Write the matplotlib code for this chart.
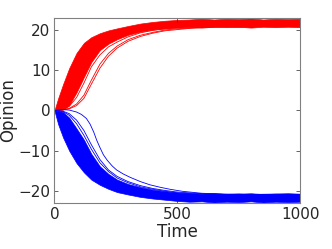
import numpy as np
import matplotlib
matplotlib.use('Agg')
import matplotlib.pyplot as plt

# time samples
t = [0, 15, 35, 60, 90, 120, 150, 185, 220, 255, 300, 350, 400, 450,
     500, 550, 600, 650, 700, 750, 800, 850, 900, 950, 1000]

# red cluster: edges of the dense band
red_top = [0, 3.0, 6.5, 10.5, 14.3, 16.8, 18.2, 19.2, 19.9, 20.4, 21.0, 21.6, 22.0, 22.3,
           22.5, 22.6, 22.8, 22.6, 22.8, 22.7, 22.9, 22.6, 22.8, 22.7, 22.8]
red_bot = [0, 0, 0.2, 1.3, 4.5, 8.3, 12.0, 15.0, 16.6, 17.7, 18.8, 19.6, 20.1, 20.4,
           20.6, 20.7, 20.6, 20.8, 20.7, 20.8, 20.6, 20.8, 20.7, 20.8, 20.7]
# red trajectories that lag behind the band
red_slow = [
    [0, 0.1, 0.2, 0.4, 1.2, 3.0, 6.5, 10.5, 13.5, 15.5, 17.2, 18.4, 19.2, 19.8,
     20.1, 20.4, 20.6, 20.7, 20.8, 20.7, 20.8, 20.9, 20.8, 20.9, 20.8],
    [0, 0.1, 0.2, 0.5, 1.6, 3.8, 7.5, 11.5, 14.2, 16.0, 17.6, 18.7, 19.4, 20.0,
     20.3, 20.5, 20.7, 20.8, 20.9, 20.8, 21.0, 20.9, 21.0, 20.9, 21.0],
    [0, 0.1, 0.3, 1.0, 3.2, 6.8, 10.8, 13.8, 15.8, 17.0, 18.3, 19.3, 19.9, 20.3,
     20.6, 20.8, 20.9, 21.0, 21.0, 21.1, 21.0, 21.1, 21.0, 21.1, 21.0],
]

# blue cluster
blue_top = [0, -0.1, -0.4, -1.8, -4.5, -7.3, -10.8, -13.9, -15.8, -17.2, -18.3, -19.1, -19.7, -20.1,
            -20.4, -20.6, -20.7, -20.6, -20.8, -20.7, -20.6, -20.8, -20.7, -20.6, -20.7]
blue_bot = [0, -3.4, -6.7, -10.0, -13.1, -15.4, -17.2, -18.5, -19.5, -20.3, -20.9, -21.5, -21.9, -22.2,
            -22.5, -22.7, -22.6, -22.9, -22.7, -22.8, -22.6, -22.9, -22.7, -22.8, -22.7]
blue_slow = [
    [0, -0.1, -0.2, -0.8, -2.4, -5.0, -8.5, -12.2, -14.8, -16.4, -17.7, -18.7, -19.4, -19.9,
     -20.3, -20.5, -20.7, -20.8, -20.9, -20.8, -21.0, -20.9, -21.0, -20.9, -21.0],
    [0, -0.1, -0.3, -1.2, -3.3, -6.2, -9.6, -13.0, -15.2, -16.8, -18.0, -19.0, -19.6, -20.1,
     -20.5, -20.7, -20.8, -20.9, -21.0, -20.9, -21.1, -21.0, -21.1, -21.0, -21.1],
]
# the single slowest blue trajectory, read more finely
t_far = [0, 30, 60, 90, 110, 130, 145, 160, 172, 185, 199, 215, 235, 253, 280, 307,
         350, 389, 430, 470, 520, 600, 700, 800, 900, 1000]
blue_far = [0, 0.2, 0.1, -0.4, -1.0, -2.0, -3.4, -5.4, -7.4, -9.2, -11.0, -12.4, -13.8, -14.8,
            -15.8, -16.6, -17.7, -18.5, -19.1, -19.6, -20.1, -20.6, -20.8, -20.9, -20.8, -20.9]

plt.rcParams['font.family'] = 'DejaVu Sans'
fig = plt.figure(figsize=(3.32, 2.49), dpi=100)
ax = fig.add_axes([0.164, 0.185, 0.740, 0.743])

ax.fill_between(t, red_bot, red_top, color=(1, 0, 0), lw=0.5, ec=(1, 0, 0))
for y in red_slow:
    ax.plot(t, y, color=(1, 0, 0), lw=0.6)
ax.fill_between(t, blue_bot, blue_top, color=(0, 0, 1), lw=0.5, ec=(0, 0, 1))
for y in blue_slow:
    ax.plot(t, y, color=(0, 0, 1), lw=0.6)
ax.plot(t_far, blue_far, color=(0, 0, 1), lw=0.6)

ax.set_xlim(0, 1000)
ax.set_ylim(-23, 23)
ax.set_xticks([0, 500, 1000])
ax.set_yticks([-20, -10, 0, 10, 20])
ax.tick_params(direction='in', length=3, width=0.5, top=True, right=True,
               labelsize=11, colors='#262626', pad=3)
for s in ax.spines.values():
    s.set_color('#808080')
    s.set_linewidth(0.8)
ax.set_xlabel('Time', fontsize=12, color='#262626', labelpad=1)
ax.set_ylabel('Opinion', fontsize=12, color='#262626', labelpad=1)

fig.savefig('out.png', dpi=100)
